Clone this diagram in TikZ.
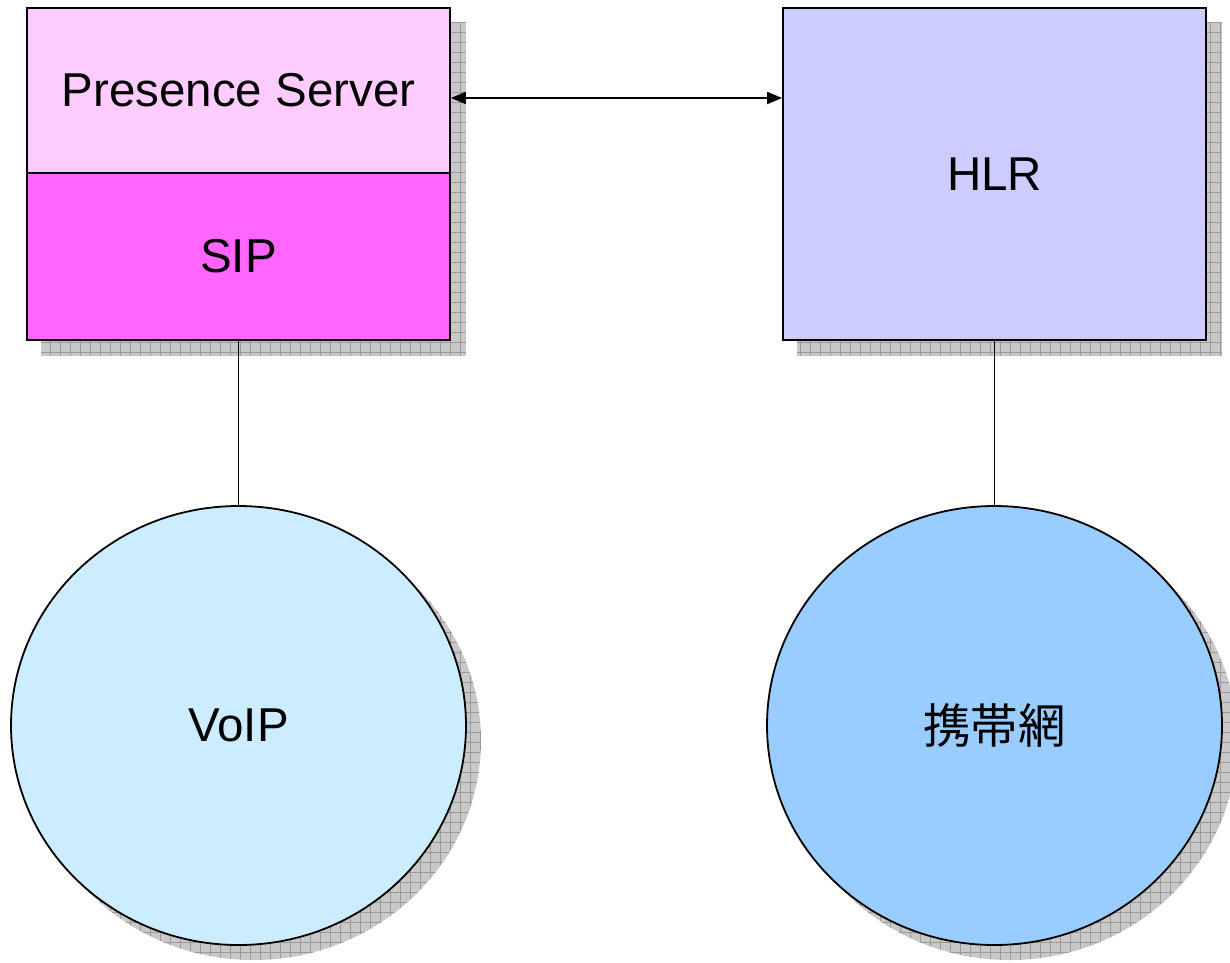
\documentclass[tikz,border=0pt]{standalone}
\usepackage{fontspec}
\setmainfont{Liberation Sans}
\newfontfamily\cjk{Noto Sans CJK JP}
\usetikzlibrary{arrows.meta,shapes.geometric,patterns.meta,backgrounds}
\definecolor{pslight}{HTML}{FFCCFF}
\definecolor{sipcol}{HTML}{FF66FF}
\definecolor{hlrcol}{HTML}{CCCCFF}
\definecolor{voipcol}{HTML}{CCECFF}
\definecolor{mobcol}{HTML}{99CCFF}
\definecolor{shbase}{HTML}{C8C8C8}
\definecolor{shline}{HTML}{9A9A9A}
\tikzset{
  every node/.style={font=\fontsize{47.5}{57}\selectfont},
  boxnode/.style={draw=black, line width=1.8pt, rectangle, inner sep=0pt},
  ellnode/.style={draw=black, line width=1.8pt, ellipse, inner sep=0pt, minimum width=455pt, minimum height=439pt},
  shade/.style={fill=shbase, postaction={pattern={Hatch[angle=0, distance=10pt, line width=0.9pt]}, pattern color=shline}},
  conn/.style={draw=black, line width=1.8pt}
}
\begin{document}
\begin{tikzpicture}[x=1pt,y=-1pt]
\useasboundingbox (0,0) rectangle (1230,962);
\node[boxnode, fill=pslight, minimum width=423pt, minimum height=165pt] (ps) at (238.5,90.5) {Presence Server};
\node[boxnode, fill=sipcol, minimum width=423pt, minimum height=167pt] (sip) at (238.5,256.5) {SIP};
\node[boxnode, fill=hlrcol, minimum width=423pt, minimum height=332pt] (hlr) at (994.5,174) {HLR};
\node[ellnode, fill=voipcol] (voip) at (238.5,725.5) {VoIP};
\node[ellnode, fill=mobcol] (mob) at (994.5,725.5) {\cjk 携帯網};
\begin{scope}[on background layer]
  \path[shade] ([shift={(15,15)}]ps.north west) rectangle ([shift={(15,15)}]sip.south east);
  \path[shade] ([shift={(15,15)}]hlr.north west) rectangle ([shift={(15,15)}]hlr.south east);
  \path[shade] ([shift={(15,15)}]voip.center) ellipse [x radius=227.5, y radius=219.5];
  \path[shade] ([shift={(15,15)}]mob.center) ellipse [x radius=227.5, y radius=219.5];
\end{scope}
\coordinate (arrL) at ([yshift=-7.5pt]ps.east);
\coordinate (arrR) at (arrL -| hlr.west);
\draw[conn, {Triangle[length=15pt,width=12pt]}-{Triangle[length=15pt,width=12pt]}] (arrL) -- (arrR);
\draw[conn] (sip.south) -- (voip.north);
\draw[conn] (hlr.south) -- (mob.north);
\end{tikzpicture}
\end{document}
